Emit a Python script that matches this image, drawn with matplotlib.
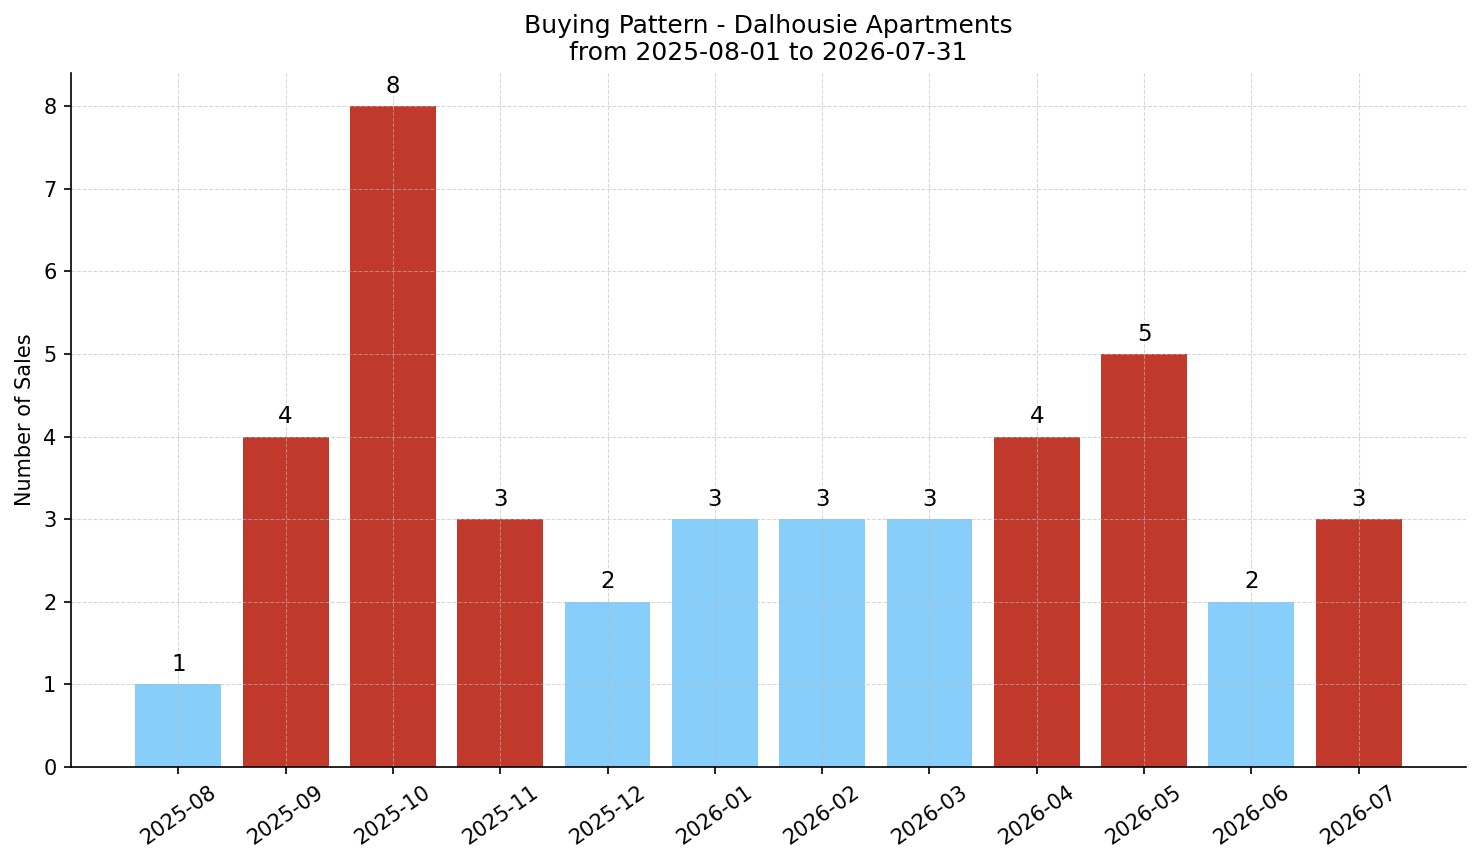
import matplotlib
matplotlib.use("Agg")
import matplotlib.pyplot as plt

months = ["2025-08", "2025-09", "2025-10", "2025-11", "2025-12", "2026-01",
          "2026-02", "2026-03", "2026-04", "2026-05", "2026-06", "2026-07"]
sales = [1, 4, 8, 3, 2, 3, 3, 3, 4, 5, 2, 3]
highlight = [False, True, True, True, False, False, False, False, True, True, False, True]

RED = "#C0392B"
BLUE = "#87CEFA"

fig = plt.figure(figsize=(1481/150, 863/150), dpi=150)
ax = fig.add_axes([71/1481, 1-767/863, (1466-71)/1481, (767-73)/863])

x = list(range(len(months)))
colors = [RED if h else BLUE for h in highlight]
bars = ax.bar(x, sales, width=0.8, color=colors)
for xi, v in zip(x, sales):
    ax.text(xi, v + 0.1, str(v), ha="center", va="bottom", fontsize=11)

ax.set_xlim(-1, 12)
ax.set_ylim(0, 8.4)
ax.set_xticks(x)
ax.set_xticklabels(months, rotation=35, ha="center", rotation_mode="default")
ax.tick_params(labelsize=10)
ax.set_ylabel("Number of Sales", fontsize=10)
ax.set_title("Buying Pattern - Dalhousie Apartments\nfrom 2025-08-01 to 2026-07-31", fontsize=12)
ax.grid(True, linestyle="--", color="#bbbbbb", alpha=0.6, linewidth=0.5)
ax.spines["top"].set_visible(False)
ax.spines["right"].set_visible(False)

fig.savefig("out.png", dpi=150)
